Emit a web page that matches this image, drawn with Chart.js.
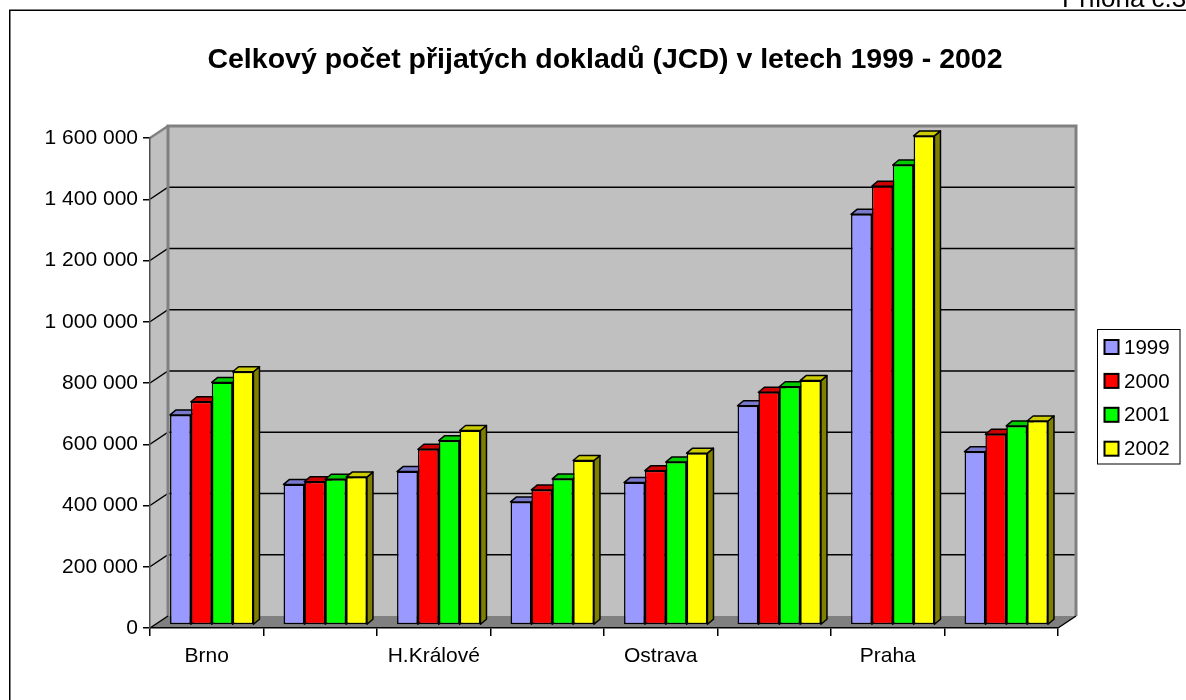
<!DOCTYPE html>
<html><head><meta charset="utf-8">
<script src="https://cdn.jsdelivr.net/npm/chart.js@4.4.1/dist/chart.umd.min.js"></script>
<style>html,body{margin:0;padding:0;background:#fff;overflow:hidden}</style>
</head><body>
<canvas id="c" width="1186" height="700"></canvas>
<script>
const categories = ["Brno", "", "H.Králové", "", "Ostrava", "", "Praha", ""];
const seriesNames = ["1999", "2000", "2001", "2002"];
const values1999 = [686000, 459000, 501000, 402000, 465000, 716000, 1341000, 566000];
const values2000 = [729000, 468000, 574000, 441000, 504000, 760000, 1433000, 623000];
const values2001 = [792000, 476000, 602000, 477000, 532000, 778000, 1502000, 650000];
const values2002 = [827000, 483000, 635000, 537000, 561000, 798000, 1597000, 666000];
const yTicks = [0, 200000, 400000, 600000, 800000, 1000000, 1200000, 1400000, 1600000];
const titleText = "Celkový počet přijatých dokladů (JCD) v letech 1999 - 2002";
const headerText = "Příloha č.3";
const seriesColors = ["#9999ff", "#ff0000", "#00ff00", "#ffff00"];

const FONT = "'Liberation Sans', Arial, sans-serif";
const DX = 18, DY = 12;          // wall depth
const BDX = 6, BDY = 5;          // bar depth
const SHIFT_X = 5, SHIFT_Y = -3; // bars stand a bit behind the front plane

function shade(hex, f) {
  const n = parseInt(hex.slice(1), 16);
  const r = Math.round(((n >> 16) & 255) * f), g = Math.round(((n >> 8) & 255) * f), b = Math.round((n & 255) * f);
  return `rgb(${r},${g},${b})`;
}
function poly(ctx, pts) {
  ctx.beginPath();
  ctx.moveTo(pts[0][0], pts[0][1]);
  for (let i = 1; i < pts.length; i++) ctx.lineTo(pts[i][0], pts[i][1]);
  ctx.closePath();
}
function fmt(v) { return String(v).replace(/\B(?=(\d{3})+(?!\d))/g, ' '); }

const threeD = {
  id: 'threeD',
  beforeDraw(chart) {
    const { ctx, chartArea: a } = chart;
    ctx.save();
    ctx.fillStyle = '#fff';
    ctx.fillRect(0, 0, chart.width, chart.height);
    // page frame
    ctx.strokeStyle = '#000'; ctx.lineWidth = 1.5;
    ctx.beginPath(); ctx.moveTo(9.75, 700); ctx.lineTo(9.75, 10.25); ctx.lineTo(1186, 10.25); ctx.stroke();
    ctx.fillStyle = '#000'; ctx.font = `26px ${FONT}`; ctx.textBaseline = 'alphabetic'; ctx.textAlign = 'left';
    ctx.fillText(headerText, 1062, 7);

    const L = a.left, R = a.right, T = a.top, B = a.bottom;
    // back wall
    ctx.fillStyle = '#c0c0c0';
    ctx.fillRect(L + DX, T - DY, R - L, B - T);
    // side wall
    poly(ctx, [[L, T], [L + DX, T - DY], [L + DX, B - DY], [L, B]]);
    ctx.fill();
    // floor
    ctx.fillStyle = '#808080';
    poly(ctx, [[L, B], [R, B], [R + DX, B - DY], [L + DX, B - DY]]);
    ctx.fill();
    // gridlines
    const ys = chart.scales.y;
    ctx.strokeStyle = '#000'; ctx.lineWidth = 1.5;
    yTicks.forEach(v => {
      if (v === 0 || v === yTicks[yTicks.length - 1]) return;
      const y = ys.getPixelForValue(v);
      ctx.beginPath();
      ctx.moveTo(L, y); ctx.lineTo(L + DX, y - DY); ctx.lineTo(R + DX, y - DY);
      ctx.stroke();
    });
    // wall borders
    ctx.strokeStyle = '#808080'; ctx.lineWidth = 3; ctx.lineJoin = 'miter';
    ctx.beginPath();
    ctx.moveTo(L + DX, B - DY); ctx.lineTo(L + DX, T - DY); ctx.lineTo(R + DX, T - DY); ctx.lineTo(R + DX, B - DY);
    ctx.stroke();
    ctx.lineWidth = 2.5;
    ctx.beginPath(); ctx.moveTo(L, T); ctx.lineTo(L + DX, T - DY); ctx.stroke();
    ctx.lineWidth = 1.5; ctx.strokeStyle = '#000';
    ctx.beginPath(); ctx.moveTo(L, B); ctx.lineTo(L + DX, B - DY); ctx.stroke();
    ctx.beginPath(); ctx.moveTo(R, B); ctx.lineTo(R + DX, B - DY); ctx.stroke();
    ctx.restore();
  },
  beforeDatasetsDraw(chart) {
    const ctx = chart.ctx;
    ctx.save();
    ctx.translate(SHIFT_X, SHIFT_Y);
    ctx.lineWidth = 1.5; ctx.strokeStyle = '#000'; ctx.lineJoin = 'round';
    chart.data.datasets.forEach((ds, di) => {
      const meta = chart.getDatasetMeta(di);
      meta.data.forEach(el => {
        const { x, y, base, width } = el.getProps(['x', 'y', 'base', 'width'], true);
        const x1 = x - width / 2, x2 = x + width / 2;
        const c = seriesColors[di];
        poly(ctx, [[x2, y], [x2 + BDX, y - BDY], [x2 + BDX, base - BDY], [x2, base]]);
        ctx.fillStyle = shade(c, 0.5); ctx.fill(); ctx.stroke();
        poly(ctx, [[x1, y], [x2, y], [x2 + BDX, y - BDY], [x1 + BDX, y - BDY]]);
        ctx.fillStyle = shade(c, 0.8); ctx.fill(); ctx.stroke();
      });
    });
  },
  afterDatasetsDraw(chart) {
    chart.ctx.restore();
  },
  afterDraw(chart) {
    const ctx = chart.ctx;
    ctx.save();
    const bx = 1097.5, by = 329.5, bw = 82.5, bh = 134.5;
    ctx.fillStyle = '#fff'; ctx.fillRect(bx, by, bw, bh);
    ctx.strokeStyle = '#000'; ctx.lineWidth = 1; ctx.strokeRect(bx, by, bw, bh);
    ctx.font = `20.5px ${FONT}`; ctx.textBaseline = 'middle'; ctx.textAlign = 'left';
    chart.data.datasets.forEach((ds, i) => {
      const cy = 347 + i * 33.9;
      ctx.fillStyle = ds.backgroundColor;
      ctx.fillRect(1104.5, cy - 7, 14, 14);
      ctx.lineWidth = 2; ctx.strokeRect(1104.5, cy - 7, 14, 14);
      ctx.fillStyle = '#000';
      ctx.fillText(ds.label, 1124, cy + 1);
    });
    ctx.restore();
  }
};

const PAD_LEFT = 24;
const seriesValues = [values1999, values2000, values2001, values2002];

new Chart(document.getElementById('c'), {
  type: 'bar',
  data: {
    labels: categories,
    datasets: seriesNames.map((n, i) => ({
      label: n,
      data: seriesValues[i],
      backgroundColor: seriesColors[i],
      borderColor: '#000',
      borderWidth: 1.5,
      borderSkipped: false,
      categoryPercentage: 0.735,
      barPercentage: 1.0
    }))
  },
  options: {
    responsive: false,
    animation: false,
    devicePixelRatio: 1,
    layout: { padding: { left: PAD_LEFT, right: 0, top: 0, bottom: 0 } },
    plugins: {
      legend: { display: false },
      tooltip: { enabled: false },
      title: {
        display: true,
        text: titleText,
        color: '#000',
        font: { family: FONT, size: 28.5, weight: 'bold', lineHeight: 1.2 },
        padding: { top: 43, bottom: 60.8 }
      }
    },
    scales: {
      x: {
        grid: { display: true, drawOnChartArea: false, drawTicks: true, tickLength: 8, color: '#000', lineWidth: 1.5, offset: true },
        border: { display: true, color: '#000', width: 1.5 },
        ticks: { color: '#000', font: { family: FONT, size: 21 }, padding: 8, autoSkip: false, maxRotation: 0 },
        afterFit: s => { s.height = 72; }
      },
      y: {
        min: 0, max: 1600000,
        grid: { display: true, drawOnChartArea: false, drawTicks: true, tickLength: 7, color: '#000', lineWidth: 1.5 },
        border: { display: true, color: '#505050', width: 1.5 },
        ticks: { color: '#000', font: { family: FONT, size: 21 }, padding: 5, callback: v => fmt(v) },
        afterBuildTicks: s => { s.ticks = yTicks.map(v => ({ value: v })); },
        afterFit: s => { s.width = 150 - PAD_LEFT; }
      },
      y2: {
        type: 'linear', position: 'right', display: true,
        grid: { display: false }, border: { display: false }, ticks: { display: false },
        afterFit: s => { s.width = 128; }
      }
    }
  },
  plugins: [threeD]
});
</script>
</body></html>
